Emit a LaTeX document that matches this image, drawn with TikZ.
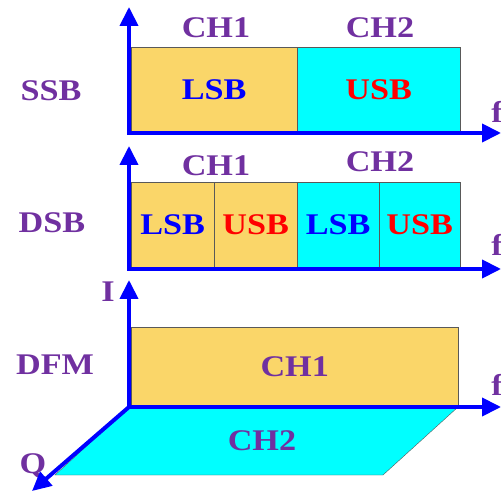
\documentclass[tikz,border=0pt]{standalone}
\usepackage{fontspec}
\setmainfont{Liberation Serif}[FakeStretch=1.14]
\usetikzlibrary{arrows.meta}
\definecolor{chyellow}{HTML}{FAD669}
\definecolor{chcyan}{HTML}{00FFFF}
\definecolor{labpurple}{HTML}{7030A0}
\begin{document}
\begin{tikzpicture}[x=1pt, y=-1pt,
band/.style={draw=black!65, thin, inner sep=0pt, anchor=north west, minimum height=86pt, font=\fontsize{30}{30}\selectfont\bfseries},
lsb/.style={band, fill=chyellow},
usb/.style={band, fill=chcyan},
lab/.style={text=labpurple, font=\fontsize{30}{30}\selectfont\bfseries},
axis/.style={draw=blue, line width=4pt, {Triangle[length=19pt,width=18pt]}-{Triangle[length=19pt,width=18pt]}},
qaxis/.style={draw=blue, line width=4pt, -{Triangle[length=19pt,width=18pt]}}
]
\useasboundingbox (0,0) rectangle (501,494);
%Nodes
\node[lsb, minimum width=166pt, text=blue]  (ssb1) at (131,47)  {LSB};
\node[usb, minimum width=163pt, text=red]   (ssb2) at (297,47)  {USB};
\node[lsb, minimum width=83pt, text=blue]   (dsb1) at (131,182) {LSB};
\node[lsb, minimum width=83pt, text=red]    (dsb2) at (214,182) {USB};
\node[usb, minimum width=82pt, text=blue]   (dsb3) at (297,182) {LSB};
\node[usb, minimum width=81pt, text=red]    (dsb4) at (379,182) {USB};
\draw[draw=black!65, thin, fill=chcyan] (129,407) -- (458,407) -- (383,475) -- (55,475) -- cycle;
\node[lsb, minimum width=327pt, minimum height=80pt, text=labpurple] (dfm1) at (131,327) {CH1};
\node[lab] (dfm2) at (262,441) {CH2};

\node[lab] (t1) at (216,28)  {CH1};
\node[lab] (t2) at (380,28)  {CH2};
\node[lab] (t3) at (216,166) {CH1};
\node[lab] (t4) at (380,162) {CH2};
\node[lab] (ssb) at (51,91)  {SSB};
\node[lab] (dsb) at (52,223) {DSB};
\node[lab] (dfm) at (55,365) {DFM};
\node[lab] (f1) at (497,112) {f};
\node[lab] (f2) at (497,245) {f};
\node[lab] (f3) at (497,385) {f};
\node[lab] (i)  at (108,292) {I};
\node[lab] (q)  at (33,466)  {Q};

\coordinate (y1) at (129,7);
\coordinate (x1) at (501,133);
\coordinate (y2) at (129,146);
\coordinate (x2) at (501,269);
\coordinate (y3) at (129,280);
\coordinate (x3) at (501,407);
\coordinate (o3) at (129,407);
\coordinate (z3) at (32,491);
%Lines
\draw[axis] (y1) |- (x1);
\draw[axis] (y2) |- (x2);
\draw[axis] (y3) |- (x3);
\draw[qaxis] (o3) -- (z3);
\end{tikzpicture}
\end{document}
